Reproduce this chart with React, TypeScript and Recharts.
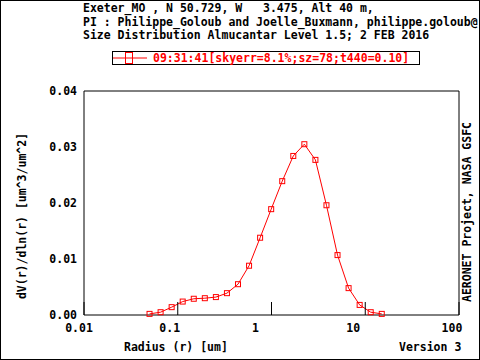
import React from 'react';
import { LineChart, Line, XAxis, YAxis, ReferenceArea, Legend } from 'recharts';

// radius bins (um) of the almucantar inversion
const radius = [
  0.05, 0.065604, 0.086077, 0.112939, 0.148184, 0.194429, 0.255105, 0.334716, 0.439173, 0.576227, 0.756052,
  0.991996, 1.301571, 1.707757, 2.240702, 2.939966, 3.857452, 5.06126, 6.640745, 8.713145, 11.432287, 15.0,
];
// dV(r)/dln(r)
const dv = [
  0.0002, 0.0005, 0.0014, 0.0024, 0.0029, 0.003, 0.0032, 0.0039, 0.0055, 0.0088, 0.0138,
  0.0189, 0.0239, 0.0284, 0.0305, 0.0277, 0.0196, 0.0107, 0.0048, 0.0018, 0.0005, 0.0002,
];
const xTicks = [0.01, 0.1, 1, 10, 100];
const yTicks = [0, 0.01, 0.02, 0.03, 0.04];
const seriesName = '09:31:41[skyerr=8.1%;sz=78;t440=0.10]';
const titleLines = [
  'Exeter_MO , N 50.729, W   3.475, Alt 40 m,',
  'PI : Philippe_Goloub and Joelle_Buxmann, philippe.goloub@',
  'Size Distribution Almucantar Level 1.5; 2 FEB 2016',
];

const data = radius.map((r, i) => ({ r, v: dv[i] }));

const FONT = '"DejaVu Sans Mono", monospace';
const FS = 11.5;
// IDL places the x labels a bit left of their ticks
const xLabelShift = [-5, -8, -16, -12, -7];

interface TickProps {
  x: number;
  y: number;
  index: number;
  payload: { value: number };
}

const XTick = ({ x, y, index, payload }: TickProps) => (
  <g>
    <line x1={x} x2={x} y1={y} y2={y - 13} stroke="#000" strokeWidth={1} />
    <text x={x + xLabelShift[index]} y={y + 16.5} textAnchor="middle" fontFamily={FONT} fontWeight="bold" fontSize={FS} fill="#000">
      {String(payload.value)}
    </text>
  </g>
);

interface DotProps {
  cx?: number;
  cy?: number;
}

const SquareDot = ({ cx, cy }: DotProps) => {
  if (cx == null || cy == null) return null;
  return <rect x={cx - 2.5} y={cy - 2.5} width={5} height={5} fill="none" stroke="#ff0000" strokeWidth={1} />;
};

const LegendBox = () => (
  <div
    style={{
      border: '1px solid #000',
      height: 12,
      width: 306,
      display: 'flex',
      alignItems: 'center',
      background: '#fff',
      fontFamily: FONT,
      fontWeight: 'bold',
      fontSize: FS,
      color: '#ff0000',
      lineHeight: '12px',
    }}
  >
    <svg width={40} height={12} style={{ display: 'block', flex: 'none' }}>
      <line x1={0} x2={34} y1={6} y2={6} stroke="#ff0000" />
      <rect x={12.5} y={0.5} width={7} height={11} fill="none" stroke="#ff0000" />
    </svg>
    <span style={{ whiteSpace: 'pre' }}>{seriesName}</span>
  </div>
);

const txt: React.CSSProperties = {
  position: 'absolute',
  fontFamily: FONT,
  fontWeight: 'bold',
  fontSize: FS,
  lineHeight: '13px',
  whiteSpace: 'pre',
  color: '#000',
};

export default function App() {
  return (
    <div style={{ position: 'absolute', left: 0, top: 0, width: 480, height: 360, overflow: 'hidden', background: '#fff' }}>
      <LineChart width={480} height={360} data={data} margin={{ top: 91, right: 21, bottom: 44, left: 83 }}>
        <XAxis
          dataKey="r"
          type="number"
          scale="log"
          domain={[0.01, 100]}
          ticks={xTicks}
          allowDataOverflow
          height={1}
          axisLine={false}
          tickLine={false}
          tickSize={0}
          tickMargin={0}
          tick={(p: TickProps) => <XTick {...p} />}
          interval={0}
        />
        <YAxis
          type="number"
          domain={[0, 0.04]}
          ticks={yTicks}
          width={1}
          axisLine={false}
          tickLine={false}
          tickSize={0}
          tickMargin={7}
          interval={0}
          tickFormatter={(v: number) => v.toFixed(2)}
          tick={{ fontFamily: FONT, fontWeight: 'bold', fontSize: FS, fill: '#000' }}
        />
        <ReferenceArea x1={0.01} x2={100} y1={0} y2={0.04} fill="none" stroke="#000" strokeWidth={1} ifOverflow="visible" />
        <Legend
          layout="horizontal"
          verticalAlign="middle"
          align="center"
          content={() => <LegendBox />}
          wrapperStyle={{ position: 'absolute', left: 112, top: 51, width: 308, height: 14 }}
        />
        <Line
          name={seriesName}
          dataKey="v"
          stroke="#ff0000"
          strokeWidth={1}
          type="linear"
          dot={<SquareDot />}
          activeDot={false}
          isAnimationActive={false}
        />
      </LineChart>
      {titleLines.map((t, i) => (
        <div key={i} style={{ ...txt, left: 83, top: [2, 16, 29][i] }}>
          {t}
        </div>
      ))}
      <div style={{ ...txt, left: 22, top: 216, transform: 'translate(-50%, -50%) rotate(-90deg)' }}>
        dV(r)/dln(r) [um^3/um^2]
      </div>
      <div style={{ ...txt, left: 467, top: 212, transform: 'translate(-50%, -50%) rotate(-90deg)' }}>
        AERONET Project, NASA GSFC
      </div>
      <div style={{ ...txt, left: 124, top: 341 }}>Radius (r) [um]</div>
      <div style={{ ...txt, left: 399, top: 341 }}>Version 3</div>
      <div
        style={{
          position: 'absolute',
          left: 0,
          top: 0,
          width: 480,
          height: 360,
          boxSizing: 'border-box',
          border: '1px solid #000',
          pointerEvents: 'none',
        }}
      />
    </div>
  );
}
